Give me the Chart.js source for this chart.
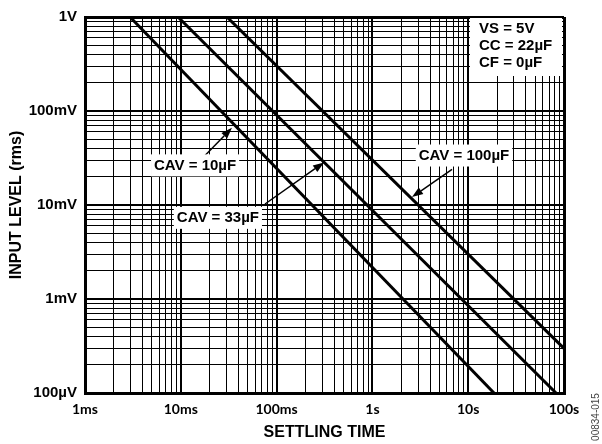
<!DOCTYPE html>
<html>
<head>
<meta charset="utf-8">
<script src="https://cdn.jsdelivr.net/npm/chart.js@4/dist/chart.umd.min.js"></script>
<style>
  html, body { margin: 0; padding: 0; background: #fff; }
  #wrap { width: 602px; height: 444px; position: relative; }
</style>
</head>
<body>
<div id="wrap"><canvas id="chart"></canvas></div>
<script>
// Axis decades and their labels
const X_TICKS  = [0.001, 0.01, 0.1, 1, 10, 100];
const X_LABELS = ['1ms', '10ms', '100ms', '1s', '10s', '100s'];
const Y_TICKS  = [0.0001, 0.001, 0.01, 0.1, 1];
const Y_LABELS = ['100µV', '1mV', '10mV', '100mV', '1V'];

// Settling curves (seconds, volts rms)
const CAV10_TIME   = [0.00295, 18.6];
const CAV10_LEVEL  = [1, 0.0001];
const CAV33_TIME   = [0.00935, 82.6];
const CAV33_LEVEL  = [1, 0.0001];
const CAV100_TIME  = [0.0303, 100];
const CAV100_LEVEL = [1, 0.000298];

// Callouts (label centre, arrow tail, arrow tip) in data units
const NOTE_TEXT  = ['CAV = 10µF', 'CAV = 33µF', 'CAV = 100µF'];
const NOTE_AT    = [[0.0141, 0.0264], [0.0244, 0.0073], [9.04, 0.0336]];
const ARROW_FROM = [[0.0179, 0.0336], [0.0757, 0.01025], [6.78, 0.0239]];
const ARROW_TO   = [[0.0342, 0.0662], [0.3126, 0.0284], [2.59, 0.01214]];

const CONDITIONS = ['VS = 5V', 'CC = 22µF', 'CF = 0µF'];
const FIG_ID = '00834-015';

const FONT = "'Liberation Sans', Arial, sans-serif";

function toPoints(xs, ys) {
  return xs.map((x, i) => ({ x, y: ys[i] }));
}

// 1..9 x each decade, for the log grid
function logGrid(decades) {
  const out = [];
  decades.forEach((d, i) => {
    if (i === decades.length - 1) { out.push(d); return; }
    for (let m = 1; m <= 9; m++) out.push(d * m);
  });
  return out;
}

function labelFor(value, ticks, labels) {
  const i = ticks.findIndex(t => Math.abs(Math.log10(t) - Math.log10(value)) < 1e-6);
  return i >= 0 ? labels[i] : '';
}

function gridWidth(ticks) {
  return ctx => {
    const v = ctx.tick ? ctx.tick.value : null;
    if (v == null) return 1;
    if (labelFor(v, [ticks[0], ticks[ticks.length - 1]], ['a', 'b'])) return 3;
    return labelFor(v, ticks, ticks) !== '' ? 2 : 1;
  };
}

function drawArrow(ctx, x1, y1, x2, y2) {
  const ang = Math.atan2(y2 - y1, x2 - x1);
  const len = 11, half = 4;
  const bx = x2 - len * Math.cos(ang), by = y2 - len * Math.sin(ang);
  ctx.beginPath();
  ctx.moveTo(x1, y1);
  ctx.lineTo(bx, by);
  ctx.stroke();
  ctx.beginPath();
  ctx.moveTo(x2, y2);
  ctx.lineTo(bx + half * Math.sin(ang), by - half * Math.cos(ang));
  ctx.lineTo(bx - half * Math.sin(ang), by + half * Math.cos(ang));
  ctx.closePath();
  ctx.fill();
}

const notesPlugin = {
  id: 'notes',
  afterDatasetsDraw(chart) {
    const { ctx, chartArea } = chart;
    const xs = chart.scales.x, ys = chart.scales.y;
    ctx.save();

    // conditions box, top right
    ctx.fillStyle = '#fff';
    ctx.fillRect(chartArea.right - 94, chartArea.top + 1, 92, 58);
    ctx.fillStyle = '#000';
    ctx.font = `bold 15px ${FONT}`;
    ctx.textAlign = 'left';
    ctx.textBaseline = 'middle';
    CONDITIONS.forEach((t, i) => {
      ctx.fillText(t, chartArea.right - 85, chartArea.top + 12 + i * 16.7);
    });

    // callouts
    ctx.strokeStyle = '#000';
    ctx.lineWidth = 1.5;
    NOTE_TEXT.forEach((t, i) => {
      drawArrow(ctx,
        xs.getPixelForValue(ARROW_FROM[i][0]), ys.getPixelForValue(ARROW_FROM[i][1]),
        xs.getPixelForValue(ARROW_TO[i][0]), ys.getPixelForValue(ARROW_TO[i][1]));
      const cx = xs.getPixelForValue(NOTE_AT[i][0]);
      const cy = ys.getPixelForValue(NOTE_AT[i][1]);
      const w = ctx.measureText(t).width + 6;
      ctx.fillStyle = '#fff';
      ctx.fillRect(cx - w / 2, cy - 11, w, 22);
      ctx.fillStyle = '#000';
      ctx.textAlign = 'center';
      ctx.fillText(t, cx, cy);
    });

    // figure id on the right edge
    ctx.translate(596, 417);
    ctx.rotate(-Math.PI / 2);
    ctx.font = `10px ${FONT}`;
    ctx.fillStyle = '#444';
    ctx.fillText(FIG_ID, 0, 0);
    ctx.restore();
  }
};

const seriesStyle = {
  showLine: true,
  borderColor: '#000',
  borderWidth: 3,
  pointRadius: 0,
  fill: false,
};

new Chart(document.getElementById('chart'), {
  type: 'scatter',
  data: {
    datasets: [
      { label: NOTE_TEXT[0], data: toPoints(CAV10_TIME, CAV10_LEVEL), ...seriesStyle },
      { label: NOTE_TEXT[1], data: toPoints(CAV33_TIME, CAV33_LEVEL), ...seriesStyle },
      { label: NOTE_TEXT[2], data: toPoints(CAV100_TIME, CAV100_LEVEL), ...seriesStyle },
    ],
  },
  options: {
    responsive: true,
    maintainAspectRatio: false,
    animation: false,
    layout: { padding: { top: 13, right: 38, left: 0, bottom: 0 } },
    plugins: {
      legend: { display: false },
      tooltip: { enabled: false },
    },
    scales: {
      x: {
        type: 'logarithmic',
        min: X_TICKS[0],
        max: X_TICKS[X_TICKS.length - 1],
        afterBuildTicks: s => { s.ticks = logGrid(X_TICKS).map(v => ({ value: v })); },
        afterFit: s => { s.height = 51; },
        grid: { color: '#000', lineWidth: gridWidth(X_TICKS), drawTicks: false },
        border: { color: '#000', width: 3 },
        ticks: {
          autoSkip: false,
          maxRotation: 0,
          padding: 8,
          color: '#000',
          font: { family: 'Lato', weight: 'bold', size: 14 },
          callback: v => labelFor(v, X_TICKS, X_LABELS),
        },
        title: {
          display: true,
          text: 'SETTLING TIME',
          color: '#000',
          font: { family: FONT, weight: 'bold', size: 16 },
          padding: { top: 0, bottom: 2 },
        },
      },
      y: {
        type: 'logarithmic',
        min: Y_TICKS[0],
        max: Y_TICKS[Y_TICKS.length - 1],
        afterBuildTicks: s => { s.ticks = logGrid(Y_TICKS).map(v => ({ value: v })); },
        afterFit: s => { s.width = 85; },
        grid: { color: '#000', lineWidth: gridWidth(Y_TICKS), drawTicks: false },
        border: { color: '#000', width: 3 },
        ticks: {
          autoSkip: false,
          padding: 8,
          color: '#000',
          font: { family: FONT, weight: 'bold', size: 15 },
          callback: v => labelFor(v, Y_TICKS, Y_LABELS),
        },
        title: {
          display: true,
          text: 'INPUT LEVEL (rms)',
          color: '#000',
          font: { family: FONT, weight: 'bold', size: 16 },
          padding: { top: 7, bottom: 0 },
        },
      },
    },
  },
  plugins: [notesPlugin],
});
</script>
</body>
</html>
